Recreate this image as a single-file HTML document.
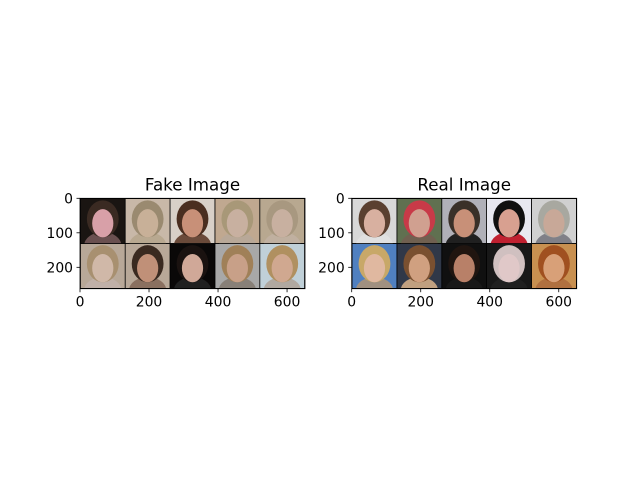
<!DOCTYPE html>
<html><head><meta charset="utf-8"><style>
html,body{margin:0;padding:0;background:#fff;width:640px;height:480px;overflow:hidden}
svg text{font-family:"DejaVu Sans","Liberation Sans",sans-serif;fill:#000}
</style></head><body>
<svg id="fig" width="640" height="480" xmlns="http://www.w3.org/2000/svg"></svg>
<script>
const xTicks=[0,200,400,600];
const yTicks=[0,100,200];
const imgW=652, imgH=262;
const titles=["Fake Image","Real Image"];
const axLeft=[80,351.7];
// cell colors: [bg, hair, skin, shirt]
const fakeCells=[
 ["#1a1512","#3a2a22","#d8a0a8","#6a5050"],["#c8b8a8","#9a8a70","#c8b098","#b8a890"],["#d8d0c8","#4a2e20","#c89078","#6a4a3a"],["#c0a890","#a89878","#c8b0a0","#b8a898"],["#b8a890","#a89880","#c8b0a0","#c0b0a0"],
 ["#b8a898","#a89070","#d0b8a8","#c0b0a8"],["#b8a898","#3a2a20","#c09078","#8a7060"],["#0a0808","#1a1210","#d0a898","#202020"],["#a8a8a8","#a08058","#c8a088","#888078"],["#c0d0d8","#b09060","#d0a890","#b0a8a0"]
];
const realCells=[
 ["#d8d8d8","#5a4030","#d8b0a0","#e0e0e0"],["#607050","#c83a48","#d0a090","#706050"],["#b0b0b8","#3a3028","#c89078","#202020"],["#e8e8f0","#101010","#d8a090","#c02030"],["#d0d0d0","#a8a8a0","#c8a898","#808088"],
 ["#5080c0","#c8a868","#e0b8a0","#a09080"],["#303848","#7a5030","#d0a080","#c0a080"],["#101010","#201510","#b88068","#181818"],["#181818","#d0c0c0","#e0c8c8","#202020"],["#c89050","#a05020","#d8a078","#b07040"]
];
const NS="http://www.w3.org/2000/svg";
const svg=document.getElementById('fig');
function el(t,a,p){const e=document.createElementNS(NS,t);for(const k in a)e.setAttribute(k,a[k]);(p||svg).appendChild(e);return e;}
const top0=198.3, axW=225, axH=90.4;
[fakeCells,realCells].forEach((cells,ai)=>{
 const L=axLeft[ai];
 const sx=v=>L+v*axW/imgW, sy=v=>top0+v*axH/imgH;
 const g=el('g',{});
 
 
 el('rect',{x:L,y:top0,width:axW,height:axH,fill:'#000'},g);
 cells.forEach((c,i)=>{
  const col=i%5,row=Math.floor(i/5);
  const x0=sx(2+col*130),y0=sy(2+row*130),w=sx(130+col*130)-x0,h=sy(130+row*130)-y0;
  const cg=el('g',{},g);
  
  
  const cp='cp'+ai+'_'+i;
  const cl=el('clipPath',{id:cp},cg);el('rect',{x:x0,y:y0,width:w,height:h},cl);
  const ig=el('g',{'clip-path':'url(#'+cp+')'},cg);
  el('rect',{x:x0,y:y0,width:w,height:h,fill:c[0]},ig);
  el('ellipse',{cx:x0+w/2,cy:y0+h*1.05,rx:w*0.42,ry:h*0.3,fill:c[3]},ig);
  el('ellipse',{cx:x0+w/2,cy:y0+h*0.45,rx:w*0.36,ry:h*0.42,fill:c[1]},ig);
  el('ellipse',{cx:x0+w/2,cy:y0+h*0.55,rx:w*0.24,ry:h*0.32,fill:c[2]},ig);
 });
 el('rect',{x:L,y:top0,width:axW,height:axH,fill:'none',stroke:'#000','stroke-width':0.8},g);
 xTicks.forEach(v=>{
  el('line',{x1:sx(v),x2:sx(v),y1:top0+axH,y2:top0+axH+3.5,stroke:'#000','stroke-width':0.8},g);
  const t=el('text',{x:sx(v),y:top0+axH+18,'font-size':13.9,'text-anchor':'middle'},g);t.textContent=v;
  
  
 });
 yTicks.forEach(v=>{
  el('line',{x1:L-3.5,x2:L,y1:sy(v),y2:sy(v),stroke:'#000','stroke-width':0.8},g);
  const t=el('text',{x:L-7,y:sy(v)+5,'font-size':13.9,'text-anchor':'end'},g);t.textContent=v;
  
  
 });
 const tt=el('text',{x:L+axW/2,y:top0-8,'font-size':16.7,'text-anchor':'middle'},g);tt.textContent=titles[ai];
 
 
});
</script>
</body></html>
